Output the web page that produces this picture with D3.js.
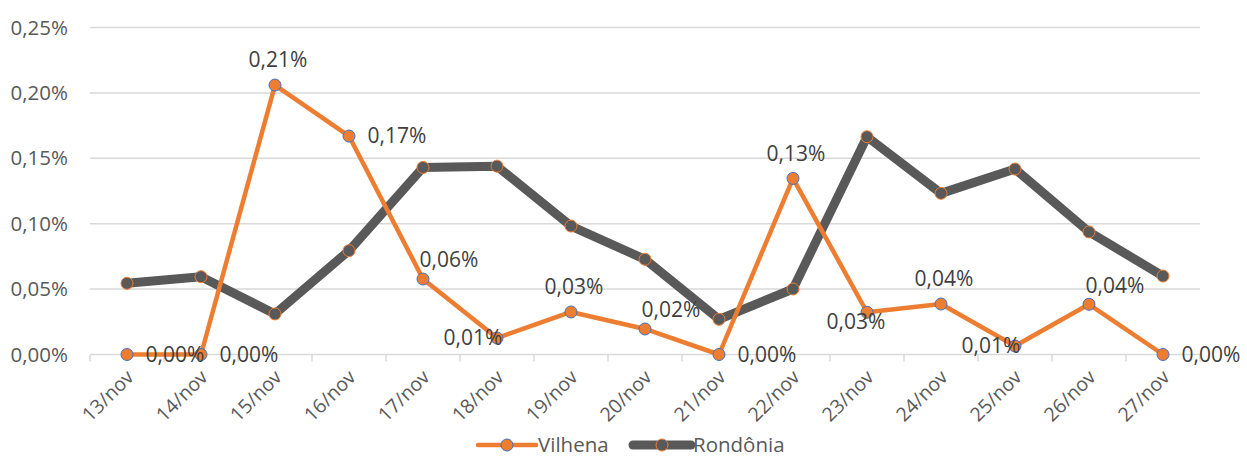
<!DOCTYPE html>
<html>
<head>
<meta charset="utf-8">
<script src="https://cdn.jsdelivr.net/npm/d3@7"></script>
<style>
  body { margin: 0; background: #fff; }
  text { font-family: "Open Sans", sans-serif; }
</style>
</head>
<body>
<div id="chart"></div>
<script>
var days = ['13/nov','14/nov','15/nov','16/nov','17/nov','18/nov','19/nov','20/nov',
            '21/nov','22/nov','23/nov','24/nov','25/nov','26/nov','27/nov'];
var vilhena = [0, 0, 0.206, 0.167, 0.0577, 0.0126, 0.0325, 0.0195, 0, 0.1346,
               0.0323, 0.0386, 0.0065, 0.0384, 0];
var rondonia = [0.0544, 0.0595, 0.031, 0.0794, 0.143, 0.144, 0.0982, 0.0728,
                0.0269, 0.0501, 0.1665, 0.1232, 0.1418, 0.0937, 0.06];
var yTicks = [0, 0.05, 0.10, 0.15, 0.20, 0.25];
var seriesNames = ['Vilhena', 'Rondônia'];
// where each Vilhena data label sits relative to its point
var labelPos = ['right','right','above','right','aboveRight','left','above','aboveRight',
                'right','above','belowLeft','above','left','aboveRight','right'];

var width = 1247, height = 457;
var margin = {top: 27.5, right: 47, bottom: 102.5, left: 90};

var svg = d3.select('#chart').append('svg')
    .attr('width', width)
    .attr('height', height);

var x = d3.scaleBand()
    .domain(days)
    .range([margin.left, width - margin.right]);

var y = d3.scaleLinear()
    .domain([0, 0.25])
    .range([height - margin.bottom, margin.top]);

var fmt = function (d) { return d3.format('.2f')(d).replace('.', ',') + '%'; };

// gridlines
svg.append('g')
   .selectAll('line')
   .data(yTicks)
   .enter()
   .append('line')
   .attr('x1', margin.left)
   .attr('x2', width - margin.right)
   .attr('y1', function (d) { return y(d); })
   .attr('y2', function (d) { return y(d); })
   .attr('stroke', '#d9d9d9')
   .attr('stroke-width', 1.5);

// y axis labels
svg.append('g')
   .attr('transform', 'translate(' + margin.left + ',0)')
   .call(d3.axisLeft(y).tickValues(yTicks).tickFormat(fmt).tickSize(0).tickPadding(22))
   .call(function (g) { g.select('.domain').remove(); })
   .selectAll('text')
   .attr('fill', '#595959')
   .style('font-size', '20.5px');

// x axis
var xAxis = svg.append('g')
   .attr('transform', 'translate(0,' + y(0) + ')');
xAxis.selectAll('line.tick')
   .data(d3.range(days.length + 1))
   .enter()
   .append('line')
   .attr('x1', function (i) { return margin.left + i * x.bandwidth(); })
   .attr('x2', function (i) { return margin.left + i * x.bandwidth(); })
   .attr('y1', 0)
   .attr('y2', 7)
   .attr('stroke', '#d9d9d9')
   .attr('stroke-width', 1.5);
xAxis.selectAll('text')
   .data(days)
   .enter()
   .append('text')
   .attr('text-anchor', 'end')
   .attr('transform', function (d) {
       return 'translate(' + (x(d) + x.bandwidth() / 2 + 3) + ',19) rotate(-45)';
   })
   .attr('dy', '0.35em')
   .attr('fill', '#595959')
   .style('font-size', '19.5px')
   .text(function (d) { return d; });

var line = d3.line()
    .x(function (d, i) { return x(days[i]) + x.bandwidth() / 2; })
    .y(function (d) { return y(d); });

// Rondônia
svg.append('path')
   .datum(rondonia)
   .attr('d', line)
   .attr('fill', 'none')
   .attr('stroke', '#595959')
   .attr('stroke-width', 9)
   .attr('stroke-linejoin', 'round');

// Vilhena
svg.append('path')
   .datum(vilhena)
   .attr('d', line)
   .attr('fill', 'none')
   .attr('stroke', '#ED7D31')
   .attr('stroke-width', 4.5)
   .attr('stroke-linejoin', 'round');

svg.append('g')
   .selectAll('circle')
   .data(rondonia)
   .enter()
   .append('circle')
   .attr('cx', function (d, i) { return x(days[i]) + x.bandwidth() / 2; })
   .attr('cy', function (d) { return y(d); })
   .attr('r', 6)
   .attr('fill', '#595959')
   .attr('stroke', '#ED7D31')
   .attr('stroke-width', 1);

svg.append('g')
   .selectAll('circle')
   .data(vilhena)
   .enter()
   .append('circle')
   .attr('cx', function (d, i) { return x(days[i]) + x.bandwidth() / 2; })
   .attr('cy', function (d) { return y(d); })
   .attr('r', 6)
   .attr('fill', '#ED7D31')
   .attr('stroke', '#4472C4')
   .attr('stroke-width', 1);

// data labels
var offsets = {
    right:      {dx: 48, dy: 0},
    left:       {dx: -24, dy: 0},
    above:      {dx: 3, dy: -25},
    aboveRight: {dx: 26, dy: -19},
    belowLeft:  {dx: -11, dy: 9}
};
svg.append('g')
   .selectAll('text')
   .data(vilhena)
   .enter()
   .append('text')
   .attr('x', function (d, i) { return x(days[i]) + x.bandwidth() / 2 + offsets[labelPos[i]].dx; })
   .attr('y', function (d, i) { return y(d) + offsets[labelPos[i]].dy; })
   .attr('text-anchor', 'middle')
   .attr('dy', '0.35em')
   .attr('fill', '#404040')
   .style('font-size', '21px')
   .text(function (d) { return fmt(d); });

// legend
var legend = svg.append('g').attr('transform', 'translate(0,445)');
var legendItems = [
    {name: seriesNames[0], x: 478, color: '#ED7D31', width: 4.5, marker: '#ED7D31', ring: '#4472C4'},
    {name: seriesNames[1], x: 633, color: '#595959', width: 9, marker: '#595959', ring: '#ED7D31'}
];
legendItems.forEach(function (it) {
    legend.append('line')
       .attr('x1', it.x).attr('x2', it.x + 58)
       .attr('y1', 0).attr('y2', 0)
       .attr('stroke', it.color)
       .attr('stroke-width', it.width)
       .attr('stroke-linecap', 'round');
    legend.append('circle')
       .attr('cx', it.x + 29).attr('cy', 0).attr('r', 6)
       .attr('fill', it.marker)
       .attr('stroke', it.ring);
    legend.append('text')
       .attr('x', it.x + 60).attr('y', 0)
       .attr('dy', '0.35em')
       .attr('fill', '#595959')
       .style('font-size', '20.5px')
       .text(it.name);
});
</script>
</body>
</html>
